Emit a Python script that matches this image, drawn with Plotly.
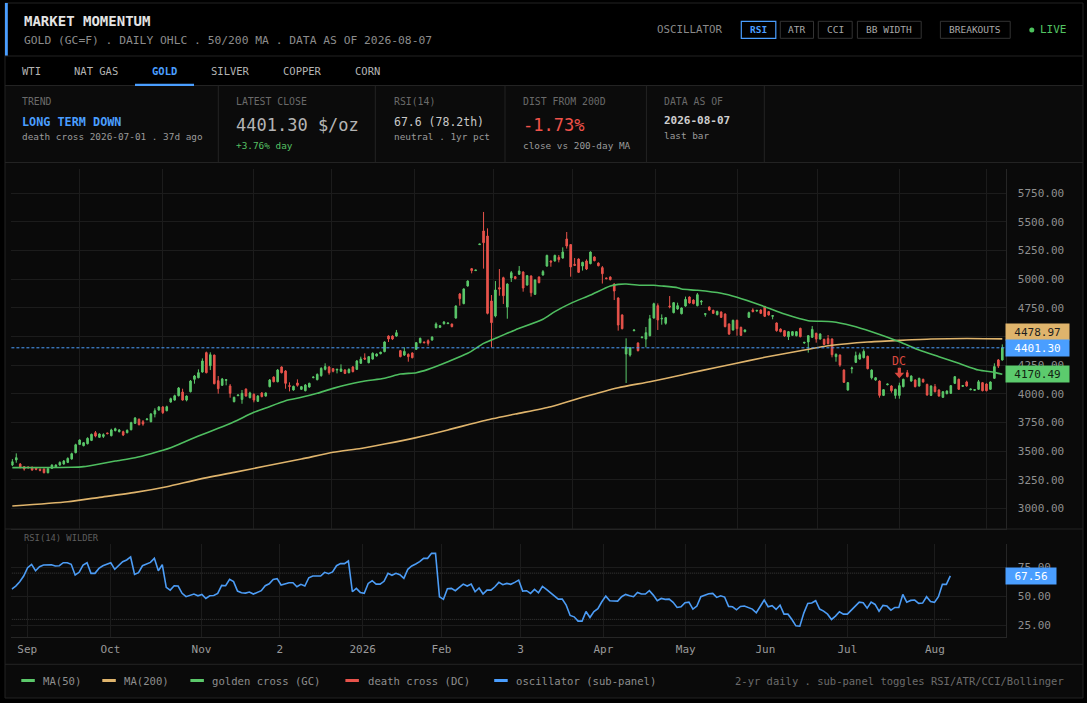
import plotly.graph_objects as go

W, H = 1087, 703
FONT = "DejaVu Sans Mono"

# ---------------- data ----------------
open_ = [3378, 3422, 3387, 3364, 3361, 3358, 3352, 3340, 3343, 3311,
         3349, 3358, 3378, 3387, 3401, 3431, 3486, 3558, 3547, 3564,
         3593, 3660, 3620, 3628, 3658, 3634, 3678, 3669, 3669, 3660,
         3686, 3742, 3777, 3756, 3774, 3756, 3823, 3858, 3884, 3852,
         3928, 3945, 3983, 4015, 3945, 4018, 4126, 4140, 4190, 4359,
         4245, 4338, 4114, 4074, 4117, 4068, 3931, 3983, 3951, 4041,
         3966, 3995, 3934, 4007, 3980, 4062, 4146, 4105, 4234, 4199,
         4071, 4033, 4094, 4039, 4027, 4059, 4141, 4123, 4158, 4213,
         4234, 4219, 4207, 4196, 4207, 4184, 4234, 4213, 4266, 4312,
         4271, 4303, 4330, 4350, 4368, 4504, 4504, 4504, 4376, 4338,
         4344, 4356, 4388, 4446, 4452, 4463, 4469, 4577, 4580, 4612,
         4612, 4609, 4661, 4871, 4787, 4941, 5092, 5075, 5302, 5421,
         5377, 4810, 4679, 4926, 5013, 4757, 5011, 5022, 5043, 5063,
         4949, 5028, 4868, 5019, 5037, 5115, 5159, 5159, 5191, 5185,
         5351, 5302, 5130, 5176, 5115, 5159, 5136, 5194, 5141, 5101,
         5011, 5019, 4958, 4836, 4688, 4347, 4338, 4551, 4443, 4490,
         4478, 4507, 4661, 4769, 4653, 4615, 4766, 4708, 4740, 4699,
         4766, 4845, 4818, 4769, 4801, 4693, 4757, 4728, 4690, 4714,
         4696, 4609, 4557, 4641, 4580, 4542, 4667, 4731, 4722, 4731,
         4763, 4717, 4676, 4618, 4565, 4551, 4498, 4510, 4507, 4571,
         4443, 4452, 4493, 4528, 4478, 4475, 4481, 4478, 4324, 4338,
         4207, 4033, 4219, 4274, 4303, 4315, 4327, 4140, 4120, 4111,
         3986, 4079, 4068, 3986, 3986, 4062, 4184, 4111, 4120, 4068,
         4126, 4082, 3986, 4062, 4033, 3969, 4001, 4004, 4091, 4126,
         4065, 4103, 4036, 4030, 4039, 4097, 4085, 4039, 4135, 4295, 4295]
high = [3430, 3480, 3395, 3369, 3366, 3366, 3361, 3349, 3349, 3352,
        3384, 3384, 3410, 3422, 3445, 3486, 3564, 3602, 3579, 3620,
        3652, 3675, 3655, 3655, 3660, 3695, 3704, 3692, 3678, 3689,
        3756, 3797, 3785, 3771, 3785, 3832, 3873, 3893, 3893, 3896,
        3966, 3992, 4059, 4044, 3986, 4120, 4164, 4213, 4309, 4368,
        4362, 4341, 4155, 4138, 4129, 4085, 3975, 3992, 4033, 4047,
        4018, 4004, 3989, 4015, 4012, 4129, 4152, 4216, 4239, 4207,
        4100, 4071, 4126, 4068, 4085, 4097, 4149, 4178, 4231, 4266,
        4242, 4225, 4219, 4257, 4216, 4222, 4242, 4295, 4324, 4353,
        4330, 4362, 4353, 4368, 4458, 4510, 4510, 4557, 4382, 4405,
        4353, 4362, 4452, 4490, 4455, 4475, 4501, 4623, 4600, 4635,
        4618, 4612, 4772, 4880, 4920, 4990, 5098, 5080, 5307, 5587,
        5444, 4862, 4984, 5089, 5022, 4964, 5072, 5028, 5115, 5069,
        5037, 5034, 4999, 5025, 5080, 5214, 5165, 5214, 5211, 5278,
        5412, 5307, 5185, 5182, 5153, 5173, 5243, 5200, 5147, 5115,
        5014, 5025, 4964, 4842, 4693, 4484, 4408, 4559, 4449, 4498,
        4583, 4688, 4795, 4789, 4693, 4670, 4853, 4801, 4795, 4754,
        4848, 4850, 4824, 4880, 4818, 4702, 4763, 4734, 4725, 4719,
        4702, 4615, 4647, 4647, 4586, 4562, 4717, 4746, 4731, 4737,
        4766, 4722, 4685, 4623, 4571, 4557, 4548, 4548, 4548, 4577,
        4452, 4513, 4591, 4533, 4528, 4481, 4513, 4484, 4353, 4344,
        4213, 4103, 4237, 4368, 4359, 4388, 4333, 4213, 4146, 4117,
        4041, 4088, 4074, 4044, 4097, 4132, 4207, 4161, 4126, 4140,
        4132, 4088, 4074, 4085, 4039, 4024, 4030, 4076, 4155, 4132,
        4074, 4114, 4044, 4039, 4120, 4103, 4091, 4108, 4266, 4303, 4431]
low = [3369, 3398, 3349, 3329, 3346, 3329, 3332, 3323, 3305, 3305,
       3343, 3352, 3372, 3381, 3395, 3425, 3480, 3553, 3541, 3558,
       3587, 3620, 3614, 3614, 3646, 3628, 3672, 3663, 3631, 3655,
       3681, 3736, 3724, 3721, 3768, 3751, 3794, 3852, 3823, 3847,
       3922, 3940, 3977, 3940, 3934, 4012, 4088, 4135, 4184, 4178,
       4207, 4082, 4001, 4068, 4074, 3966, 3925, 3980, 3913, 3975,
       3960, 3925, 3928, 3969, 3975, 4056, 4100, 4100, 4178, 4044,
       4021, 4027, 4062, 4033, 4021, 4053, 4135, 4117, 4149, 4204,
       4167, 4187, 4178, 4190, 4172, 4178, 4187, 4207, 4260, 4295,
       4266, 4298, 4324, 4344, 4362, 4452, 4469, 4498, 4318, 4330,
       4280, 4309, 4382, 4440, 4440, 4420, 4463, 4571, 4574, 4603,
       4609, 4580, 4656, 4769, 4781, 4935, 5051, 5072, 5299, 5092,
       4693, 4405, 4667, 4856, 4784, 4655, 4976, 4999, 5037, 4891,
       4944, 4848, 4862, 4964, 5031, 5109, 5109, 5153, 5147, 5179,
       5267, 5022, 5115, 5054, 5075, 5080, 5130, 5156, 5112, 4962,
       4999, 4990, 4818, 4551, 4562, 4094, 4324, 4545, 4370, 4484,
       4405, 4501, 4656, 4557, 4603, 4603, 4746, 4702, 4734, 4693,
       4760, 4787, 4781, 4763, 4775, 4673, 4725, 4696, 4685, 4661,
       4580, 4513, 4551, 4507, 4504, 4536, 4661, 4711, 4717, 4696,
       4670, 4682, 4650, 4542, 4536, 4498, 4469, 4504, 4501, 4493,
       4437, 4359, 4487, 4446, 4472, 4426, 4431, 4318, 4280, 4236,
       4094, 4027, 4178, 4268, 4298, 4309, 4213, 4126, 4114, 3966,
       3980, 4074, 4010, 3957, 3957, 4056, 4143, 4105, 4056, 4062,
       4097, 3983, 3980, 4012, 3975, 3963, 3995, 3998, 4085, 4033,
       4059, 4062, 4030, 4024, 4033, 4021, 4021, 4033, 4129, 4225, 4289]
close = [3407, 3442, 3358, 3343, 3355, 3334, 3340, 3332, 3311, 3346,
         3378, 3378, 3401, 3413, 3436, 3477, 3555, 3596, 3573, 3611,
         3646, 3631, 3649, 3643, 3652, 3684, 3695, 3684, 3640, 3681,
         3748, 3788, 3730, 3736, 3780, 3823, 3852, 3884, 3835, 3887,
         3957, 3983, 4050, 3945, 3980, 4111, 4155, 4184, 4286, 4184,
         4341, 4088, 4044, 4129, 4123, 4004, 3969, 3989, 4004, 3980,
         4007, 3945, 3980, 3975, 4007, 4120, 4105, 4207, 4184, 4091,
         4065, 4065, 4074, 4062, 4076, 4091, 4146, 4169, 4222, 4237,
         4184, 4196, 4213, 4216, 4178, 4213, 4193, 4286, 4303, 4303,
         4324, 4353, 4347, 4362, 4452, 4478, 4478, 4533, 4324, 4370,
         4324, 4315, 4446, 4484, 4446, 4440, 4495, 4609, 4594, 4626,
         4618, 4586, 4766, 4830, 4915, 4984, 5075, 5080, 5307, 5319,
         4702, 4621, 4906, 4915, 4856, 4958, 5057, 5005, 5072, 4923,
         5031, 4882, 4993, 4970, 5066, 5208, 5150, 5208, 5171, 5237,
         5290, 5107, 5121, 5060, 5147, 5089, 5237, 5162, 5118, 5048,
         5005, 4996, 4897, 4600, 4568, 4408, 4402, 4557, 4376, 4495,
         4533, 4655, 4786, 4644, 4658, 4664, 4760, 4795, 4769, 4749,
         4824, 4792, 4787, 4865, 4807, 4699, 4731, 4702, 4719, 4667,
         4586, 4522, 4641, 4568, 4510, 4557, 4708, 4717, 4728, 4702,
         4676, 4688, 4682, 4551, 4542, 4504, 4542, 4542, 4542, 4498,
         4449, 4507, 4562, 4478, 4522, 4431, 4437, 4341, 4344, 4251,
         4100, 4097, 4225, 4333, 4341, 4370, 4219, 4207, 4140, 3986,
         4036, 4085, 4027, 4039, 4071, 4126, 4149, 4155, 4062, 4135,
         4103, 3989, 4068, 4018, 3980, 4018, 4024, 4071, 4149, 4039,
         4071, 4068, 4041, 4036, 4105, 4027, 4027, 4103, 4237, 4241.8, 4401.30]
bar = list(range(len(close)))

ma50_idx = [0, 15, 18, 22, 26, 31, 35, 40, 43, 47, 52, 56, 61, 64, 69, 73, 77, 81, 88,
            94, 98, 102, 105, 110, 115, 119, 121, 127, 134, 137, 141, 146, 151, 153, 155,
            159, 162, 164, 168, 169, 173,
            179, 183, 190, 195, 201, 207, 212, 217, 224, 229, 234, 239, 244, 248, 250]
ma50_val = [3355, 3358, 3364, 3387, 3413, 3442, 3477, 3529, 3573, 3631, 3698, 3756, 3838, 3876,
            3940, 3969, 4004, 4047, 4105,
            4135, 4172, 4184, 4213, 4280, 4353, 4440, 4469, 4557, 4650, 4717, 4789, 4862, 4941,
            4955, 4958, 4947, 4947, 4941, 4926, 4914, 4903,
            4877, 4842, 4760, 4696, 4638, 4629, 4594, 4542, 4455, 4382, 4324, 4266, 4207, 4187,
            4170.49]
ma200_idx = [0, 14, 22, 31, 39, 47, 56, 64, 73, 81, 88, 94, 102, 110, 119, 127, 136, 144, 153,
             161, 169, 174, 182, 190, 199, 207, 216, 224, 232, 241, 250]
ma200_val = [3020, 3058, 3096, 3139, 3189, 3253, 3314, 3369, 3430, 3489, 3523, 3561, 3617, 3684,
             3765, 3823, 3887, 3969, 4053, 4105, 4164, 4202, 4260, 4318, 4376, 4423, 4452, 4466,
             4478, 4482, 4478.97]

rsi_idx = [13, 14, 15, 16, 17, 18, 19, 20, 21, 23, 24, 25, 26, 27, 28, 29, 30, 31, 32, 33,
           34, 35, 36, 37, 38, 39, 40, 41, 42, 43, 44, 45, 46, 47, 48, 49, 50, 51, 52, 53,
           54, 55, 56, 57, 58, 59, 60, 61, 62, 63, 64, 65, 66, 67, 68, 69, 70, 71, 72, 73,
           74, 75, 76, 77, 78, 79, 80, 81, 82, 83, 84, 85, 86, 87, 88, 89, 91, 92, 93, 94,
           95, 96, 97, 98, 99, 100, 101, 102, 103, 104, 105, 106, 107, 108, 109, 110, 111, 112, 113, 114,
           115, 116, 117, 118, 119, 120, 121, 122, 123, 124, 125, 126, 127, 128, 129, 130, 131, 132, 133, 134,
           135, 136, 137, 138, 139, 140, 141, 142, 143, 144, 145, 146, 147, 148, 149, 150, 151, 152, 153, 154,
           155, 156, 157, 158, 159, 160, 161, 162, 163, 164, 165, 166, 167, 168, 169, 170, 171, 172, 173, 174,
           175, 176, 177, 178, 179, 180, 181, 182, 183, 184, 185, 186, 187, 188, 189, 190, 191, 192, 193, 194,
           195, 196, 197, 198, 199, 200, 201, 203, 204, 205, 206, 207, 208, 209, 210, 211, 212, 213, 214, 215,
           216, 217, 218, 219, 220, 221, 222, 223, 224, 225, 226, 227, 228, 229, 230, 231, 232, 233, 234, 235,
           236, 237, 238, 239, 240, 241, 242, 243, 244, 245, 246, 247, 248, 249, 250]
rsi_val = [56.2, 58.8, 62.6, 67.5, 74.7, 77.6, 72.1, 75.5, 77.0, 77.3, 76.2, 76.4, 79.0, 79.0, 77.6, 68.4, 70.7, 77.0, 79.0, 69.8,
           69.8, 74.1, 76.4, 77.9, 79.0, 73.3, 76.2, 79.9, 81.4, 84.0, 68.9, 70.4, 76.4, 77.9, 79.3, 82.8, 72.1, 77.3, 57.7, 55.3,
           59.1, 58.8, 52.5, 49.6, 50.7, 51.9, 50.4, 51.6, 48.1, 50.4, 50.7, 52.5, 59.4, 59.1, 64.6, 62.6, 54.5, 53.0, 52.7, 53.6,
           51.9, 53.6, 54.8, 59.1, 60.8, 64.6, 65.2, 59.7, 60.5, 61.7, 61.7, 58.2, 60.3, 58.8, 66.0, 67.5, 67.5, 70.7, 69.5, 71.0,
           76.4, 78.2, 78.2, 80.5, 53.9, 56.8, 53.3, 52.5, 61.1, 63.4, 60.5, 60.5, 62.9, 69.8, 68.1, 69.8, 68.6, 65.5, 73.3, 76.2,
           77.9, 79.9, 82.8, 82.8, 87.1, 87.1, 49.6, 47.3, 56.5, 56.8, 54.8, 57.4, 60.5, 58.8, 60.5, 53.9, 57.1, 51.9, 55.3, 55.3,
           58.2, 62.0, 60.0, 61.1, 60.3, 62.0, 64.0, 54.5, 54.8, 52.5, 55.9, 53.0, 58.5, 55.9, 53.3, 50.4, 47.5, 47.5, 42.3, 33.4,
           32.2, 28.5, 28.5, 36.8, 31.6, 36.8, 39.2, 45.2, 50.1, 46.1, 45.8, 45.8, 49.6, 51.6, 50.4, 49.6, 53.3, 51.9, 51.9, 54.8,
           51.0, 46.1, 48.1, 47.3, 47.5, 44.7, 40.3, 40.9, 44.4, 44.9, 38.9, 41.5, 49.6, 50.7, 52.2, 52.5, 49.0, 50.4, 49.3, 41.2,
           40.9, 38.3, 41.2, 41.5, 40.3, 38.9, 35.7, 46.7, 40.9, 41.8, 38.6, 42.3, 34.5, 34.5, 29.9, 24.4, 24.1, 35.4, 43.8, 44.1,
           46.1, 38.9, 37.1, 34.5, 29.9, 32.8, 36.6, 34.5, 34.5, 38.0, 41.8, 44.9, 44.4, 39.7, 44.9, 42.9, 37.1, 42.1, 41.5, 38.0,
           40.3, 40.3, 51.6, 44.9, 46.4, 46.7, 43.8, 44.1, 49.6, 45.5, 44.7, 49.6, 60.3, 60.3, 67.56]

month_pos = [16.9, 37.9, 60.9, 80.7, 101.6, 121.5, 141.5, 162.4, 183.2, 203.3, 224.0, 246.1]
month_lbl = ["Sep", "Oct", "Nov", "2", "2026", "Feb", "3", "Apr", "May", "Jun", "Jul", "Aug"]
price_ticks = [3000, 3250, 3500, 3750, 4000, 4250, 4500, 4750, 5000, 5250, 5500, 5750]
# the 4500 label sits fully under the MA(200) tag in the reference, so it is left blank
price_tick_text = ["3000.00", "3250.00", "3500.00", "3750.00", "4000.00", "4250.00", "",
                   "4750.00", "5000.00", "5250.00", "5500.00", "5750.00"]
rsi_ticks = [25, 50, 75]
rsi_bands = [30, 70]
dc_bar = 224
last_close = 4401.30
last_ma50 = 4170.49
last_ma200 = 4478.97
last_rsi = 67.56

# ---------------- styling ----------------
GREEN = "#5bc86a"
RED = "#e8534b"
BLUE = "#4a9eff"
ORANGE = "#dfb46c"
GRID = "#1c1c1c"
TICK = "#8f8f8f"
LINE = "#232323"
DCRED = "#d9483f"


def px(x):
    return x / W


def py(y):
    return 1 - y / H


fig = go.Figure()
fig.add_trace(go.Candlestick(
    x=bar, open=open_, high=high, low=low, close=close,
    increasing=dict(line=dict(color=GREEN, width=1), fillcolor=GREEN),
    decreasing=dict(line=dict(color=RED, width=1), fillcolor=RED),
    hoverinfo="skip", showlegend=False, xaxis="x", yaxis="y"))
fig.add_trace(go.Scatter(x=ma200_idx, y=ma200_val, mode="lines",
                         line=dict(color=ORANGE, width=1.6, shape="spline", smoothing=0.6),
                         hoverinfo="skip", showlegend=False, xaxis="x", yaxis="y"))
fig.add_trace(go.Scatter(x=ma50_idx, y=ma50_val, mode="lines",
                         line=dict(color="#4fbe60", width=1.6, shape="spline", smoothing=0.6),
                         hoverinfo="skip", showlegend=False, xaxis="x", yaxis="y"))
fig.add_trace(go.Scatter(x=rsi_idx, y=rsi_val, mode="lines",
                         line=dict(color="#4c9cf5", width=1.6),
                         hoverinfo="skip", showlegend=False, xaxis="x2", yaxis="y2"))

main_dom_x = [px(11.4), px(1005.6)]
shapes = []
# page chrome
shapes.append(dict(type="rect", xref="paper", yref="paper", x0=px(5), x1=px(1083), y0=py(85.5), y1=py(162.5),
                   fillcolor="#0b0b0b", line=dict(width=0), layer="below"))
shapes.append(dict(type="rect", xref="paper", yref="paper", x0=px(5), x1=px(1083), y0=py(698), y1=py(162.5),
                   fillcolor="#0a0a0a", line=dict(width=0), layer="below"))
shapes.append(dict(type="rect", xref="paper", yref="paper", x0=px(5), x1=px(1083), y0=py(698), y1=py(3),
                   line=dict(color=LINE, width=1), layer="above"))
shapes.append(dict(type="rect", xref="paper", yref="paper", x0=px(5), x1=px(7.8), y0=py(56), y1=py(3),
                   fillcolor=BLUE, line=dict(width=0), layer="above"))
for yy in [56, 85.5, 162.5, 529, 664.3]:
    shapes.append(dict(type="line", xref="paper", yref="paper", x0=px(5), x1=px(1083), y0=py(yy), y1=py(yy),
                       line=dict(color=LINE, width=1), layer="above"))
for xx in [218.3, 375.3, 505, 646.4, 764.3]:
    shapes.append(dict(type="line", xref="paper", yref="paper", x0=px(xx), x1=px(xx), y0=py(85.5), y1=py(162.5),
                       line=dict(color=LINE, width=1), layer="above"))
shapes.append(dict(type="rect", xref="paper", yref="paper", x0=px(135), x1=px(194), y0=py(86), y1=py(83.8),
                   fillcolor=BLUE, line=dict(width=0), layer="above"))
# header buttons
buttons = [("RSI", 741.3, 775.8, True), ("ATR", 780.3, 813.5, False), ("CCI", 818.3, 852.2, False),
           ("BB WIDTH", 857.4, 921.2, False), ("BREAKOUTS", 940.4, 1010.2, False)]
for lbl, x0, x1, act in buttons:
    shapes.append(dict(type="rect", xref="paper", yref="paper", x0=px(x0), x1=px(x1), y0=py(38.3), y1=py(21.3),
                       line=dict(color=BLUE if act else "#333333", width=1.2 if act else 1),
                       fillcolor="rgba(0,0,0,0)", layer="above"))
shapes.append(dict(type="circle", xref="paper", yref="paper", x0=px(1029.3), x1=px(1034.3), y0=py(32.5), y1=py(27.5),
                   fillcolor="#4cc25c", line=dict(width=0), layer="above"))
# legend swatches
for (x0, col) in [(21.3, GREEN), (102.3, ORANGE), (190.4, GREEN), (345.4, RED), (494.2, BLUE)]:
    shapes.append(dict(type="line", xref="paper", yref="paper", x0=px(x0), x1=px(x0 + 13.5), y0=py(680.5),
                       y1=py(680.5), line=dict(color=col, width=3), layer="above"))
# last price dotted line
shapes.append(dict(type="line", xref="x domain", yref="y", x0=0, x1=1, y0=last_close, y1=last_close,
                   line=dict(color=BLUE, width=1, dash="3px,2px"), layer="above"))
# RSI bands
for b in rsi_bands:
    shapes.append(dict(type="line", xref="x2", yref="y2", x0=rsi_idx[0], x1=rsi_idx[-1], y0=b, y1=b,
                       line=dict(color="#3a3a3a", width=1, dash="1px,1px"), layer="below"))
# death-cross arrow (stem + head), sized in pixels above that bar's high
shapes.append(dict(type="rect", xref="x", yref="y", xsizemode="pixel", ysizemode="pixel",
                   xanchor=dc_bar, yanchor=high[dc_bar], x0=-1.6, x1=1.6, y0=9.5, y1=15,
                   fillcolor=DCRED, line=dict(width=0), layer="above"))
shapes.append(dict(type="path", xref="x", yref="y", xsizemode="pixel", ysizemode="pixel",
                   xanchor=dc_bar, yanchor=high[dc_bar], path="M -4.8 10 L 4.8 10 L 0 4.3 Z",
                   fillcolor=DCRED, line=dict(width=0), layer="above"))

annotations = []


def ann(x, y, text, size, color, anchor="left", bold=False):
    annotations.append(dict(x=px(x), y=py(y), xref="paper", yref="paper",
                            text=("<b>%s</b>" % text) if bold else text, showarrow=False,
                            xanchor=anchor, yanchor="middle",
                            font=dict(family=FONT, size=size, color=color)))


ann(22, 21, "MARKET MOMENTUM", 14, "#e4e4e4", bold=True)
ann(22, 40.5, "GOLD (GC=F) . DAILY OHLC . 50/200 MA . DATA AS OF 2026-08-07", 11.3, "#8c8c8c")
ann(655, 29.5, "OSCILLATOR", 10.8, "#8a8a8a")
for lbl, x0, x1, act in buttons:
    ann((x0 + x1) / 2, 30, lbl, 9.5, BLUE if act else "#a8a8a8", anchor="center", bold=act)
ann(1037.5, 29.5, "LIVE", 11, "#52c462")
tabs = [("WTI", 19.5), ("NAT GAS", 71.5), ("GOLD", 149.8), ("SILVER", 208.7), ("COPPER", 280.7), ("CORN", 352.7)]
for lbl, xx in tabs:
    ann(xx, 71, lbl, 10.5, BLUE if lbl == "GOLD" else "#b4b4b4", bold=(lbl == "GOLD"))
# KPI cards
ann(20, 101.5, "TREND", 9.8, "#6a6a6a")
ann(20, 121.7, "LONG TERM DOWN", 11.8, BLUE, bold=True)
ann(20, 136.7, "death cross 2026-07-01 . 37d ago", 9.4, "#9a9a9a")
ann(234, 101.5, "LATEST CLOSE", 9.8, "#6a6a6a")
ann(234, 125, "4401.30 $/oz", 17, "#b4b4b4")
ann(234, 145, "+3.76% day", 9.4, "#55c063")
ann(391.5, 101.5, "RSI(14)", 9.8, "#6a6a6a")
ann(391.5, 121.7, "67.6 (78.2th)", 11.5, "#c8c8c8")
ann(391.5, 136.7, "neutral . 1yr pct", 9.4, "#9a9a9a")
ann(521, 101.5, "DIST FROM 200D", 9.8, "#6a6a6a")
ann(521, 125, "-1.73%", 17, "#f0524a")
ann(521, 145, "close vs 200-day MA", 9.4, "#9a9a9a")
ann(661.5, 101.5, "DATA AS OF", 9.8, "#6a6a6a")
ann(661.5, 120.7, "2026-08-07", 11, "#cfcfcf", bold=True)
ann(661.5, 135.7, "last bar", 9.4, "#9a9a9a")
ann(21.5, 537.8, "RSI(14) WILDER", 8.8, "#5e5e5e")
# legend
for lbl, xx in [("MA(50)", 40.7), ("MA(200)", 121.9), ("golden cross (GC)", 210.4),
                ("death cross (DC)", 365.7), ("oscillator (sub-panel)", 513.8)]:
    ann(xx, 680.5, lbl, 10.6, "#8e8e8e")
ann(1066, 680.5, "2-yr daily . sub-panel toggles RSI/ATR/CCI/Bollinger", 10.5, "#6c6c6c", anchor="right")

# value tags on right axis
tags = [(last_ma200, ORANGE, "#1d1d1d", 7), (last_close, BLUE, "#ffffff", 0), (last_ma50, "#5ccb6d", "#122212", 0)]
for val, bg, fg, ysh in tags:
    annotations.append(dict(x=px(1005.3), y=val, xref="paper", yref="y", text="%.2f" % val,
                            showarrow=False, xanchor="left", yanchor="middle", yshift=ysh,
                            bgcolor=bg, borderpad=2, width=59, height=12, align="center",
                            font=dict(family=FONT, size=11, color=fg)))
annotations.append(dict(x=px(1005.3), y=last_rsi, xref="paper", yref="y2", text="%.2f" % last_rsi,
                        showarrow=False, xanchor="left", yanchor="middle",
                        bgcolor=BLUE, borderpad=2, width=46, height=12, align="center",
                        font=dict(family=FONT, size=11, color="#ffffff")))
# death cross label
annotations.append(dict(x=dc_bar, y=high[dc_bar], xref="x", yref="y", text="DC", showarrow=False,
                        xanchor="center", yanchor="middle", yshift=22,
                        font=dict(family=FONT, size=11.5, color=DCRED)))

axis_common = dict(showgrid=True, gridcolor=GRID, gridwidth=1, zeroline=False, fixedrange=True)
fig.update_layout(
    width=W, height=H, autosize=False,
    margin=dict(l=0, r=0, t=0, b=0),
    paper_bgcolor="#000000", plot_bgcolor="#0a0a0a",
    showlegend=False, hovermode=False, dragmode=False,
    boxgap=0.42,
    font=dict(family=FONT, color=TICK, size=11),
    xaxis=dict(domain=main_dom_x, range=[-0.23, 250.83], anchor="y", tickmode="array",
               tickvals=month_pos, showticklabels=False, showline=True, linecolor="#262626",
               rangeslider=dict(visible=False), ticks="", **axis_common),
    yaxis=dict(domain=[py(528.5), py(169)], range=[2824, 5962], side="right", anchor="x",
               tickmode="array", tickvals=price_ticks, ticktext=price_tick_text, ticks="",
               ticklabelstandoff=9, tickfont=dict(family=FONT, size=11, color=TICK),
               showline=True, linecolor="#262626", **axis_common),
    xaxis2=dict(domain=main_dom_x, range=[12.9, 263.96], anchor="y2", tickmode="array",
                tickvals=month_pos, ticktext=month_lbl, ticks="", ticklabelstandoff=2,
                tickfont=dict(family=FONT, size=11, color="#9a9a9a"),
                showline=True, linecolor="#262626", **axis_common),
    yaxis2=dict(domain=[py(636.7), py(544)], range=[15.0, 95.2], side="right", anchor="x2",
                tickmode="array", tickvals=rsi_ticks, tickformat=".2f", ticks="",
                ticklabelstandoff=9, tickfont=dict(family=FONT, size=11, color=TICK),
                showline=True, linecolor="#262626", **axis_common),
    shapes=shapes, annotations=annotations,
)

fig.write_html("out.html", config={"displayModeBar": False, "staticPlot": True},
               post_script="document.body.style.margin='0';document.body.style.background='#000';"
                           "document.body.style.overflow='hidden';")
